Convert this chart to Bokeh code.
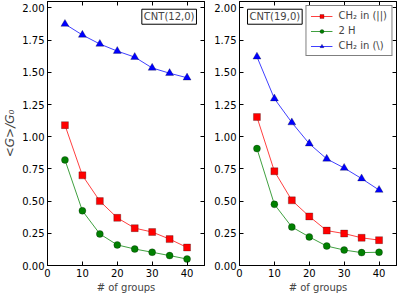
from bokeh.plotting import figure
from bokeh.layouts import row
from bokeh.models import (FixedTicker, LinearAxis, Label, Legend, LegendItem, Range1d,
                          CustomJSTickFormatter)
from bokeh.embed import file_html
from bokeh.resources import INLINE

groups = [5, 10, 15, 20, 25, 30, 35, 40]

# CNT(12,0)
c12_ch2_par = [1.09, 0.70, 0.50, 0.37, 0.29, 0.26, 0.205, 0.14]
c12_2h = [0.82, 0.425, 0.245, 0.16, 0.128, 0.103, 0.077, 0.05]
c12_ch2_perp = [1.875, 1.79, 1.72, 1.665, 1.618, 1.534, 1.493, 1.458]

# CNT(19,0)
c19_ch2_par = [1.153, 0.732, 0.506, 0.381, 0.271, 0.248, 0.215, 0.197]
c19_2h = [0.908, 0.475, 0.299, 0.222, 0.151, 0.12, 0.1, 0.103]
c19_ch2_perp = [1.621, 1.296, 1.11, 0.946, 0.828, 0.757, 0.675, 0.586]

y_ticks = [0.0, 0.25, 0.5, 0.75, 1.0, 1.25, 1.5, 1.75, 2.0]
x_ticks = [0, 10, 20, 30, 40]
series_labels = ["CH\u2082 in (||)", "2 H", "CH\u2082 in (\\)"]
panel_titles = ["CNT(12,0)", "CNT(19,0)"]

FONT = "DejaVu Sans"
RED, GREEN, BLUE = "#ff0000", "#008000", "#0000ff"


def style_axis(ax, ticks, show_labels=True):
    ax.ticker = FixedTicker(ticks=ticks)
    ax.major_tick_in = 4
    ax.major_tick_out = 0
    ax.minor_tick_line_color = None
    ax.axis_line_color = "black"
    ax.major_tick_line_color = "black"
    ax.major_label_text_font = FONT
    ax.major_label_text_color = "black"
    if show_labels:
        ax.major_label_text_font_size = "10px"
        ax.major_label_standoff = 3
    else:
        ax.formatter = CustomJSTickFormatter(code="return '';")
        ax.major_label_text_font_size = "1px"
        ax.major_label_standoff = 0


def make_panel(par, h2, perp, left_border, right_border, ylabel, legend):
    p = figure(frame_width=157, frame_height=264, output_backend="svg",
               toolbar_location=None, x_range=Range1d(0, 45), y_range=Range1d(0, 2.05),
               min_border_left=left_border, min_border_right=right_border,
               min_border_top=1, min_border_bottom=0)
    p.xgrid.visible = False
    p.ygrid.visible = False
    p.outline_line_color = "black"
    p.background_fill_color = "white"
    p.border_fill_color = "white"

    style_axis(p.xaxis[0], x_ticks)
    style_axis(p.yaxis[0], y_ticks)
    p.yaxis[0].formatter = CustomJSTickFormatter(code="return tick.toFixed(2);")
    p.xaxis[0].axis_label = "# of groups"
    p.xaxis[0].axis_label_text_font = FONT
    p.xaxis[0].axis_label_text_font_size = "10px"
    p.xaxis[0].axis_label_text_font_style = "normal"
    p.xaxis[0].axis_label_standoff = 2
    if ylabel:
        p.yaxis[0].axis_label = ylabel
        p.yaxis[0].axis_label_text_font = FONT
        p.yaxis[0].axis_label_text_font_size = "12px"
        p.yaxis[0].axis_label_text_font_style = "italic"
        p.yaxis[0].axis_label_standoff = 2

    ra = LinearAxis()
    style_axis(ra, y_ticks, show_labels=False)
    p.add_layout(ra, "right")
    ta = LinearAxis()
    style_axis(ta, x_ticks, show_labels=False)
    p.add_layout(ta, "above")

    l1 = p.line(groups, par, line_color=RED, line_width=1, line_alpha=0.75)
    m1 = p.scatter(groups, par, marker="square", size=7, fill_color=RED,
                   line_color="black", line_width=0.5, line_alpha=0.5)
    l2 = p.line(groups, h2, line_color=GREEN, line_width=1, line_alpha=0.75)
    m2 = p.scatter(groups, h2, marker="circle", size=7, fill_color=GREEN,
                   line_color="black", line_width=0.5, line_alpha=0.5)
    l3 = p.line(groups, perp, line_color=BLUE, line_width=1, line_alpha=0.75)
    m3 = p.scatter(groups, perp, marker="triangle", size=8, fill_color=BLUE,
                   line_color="black", line_width=0.5, line_alpha=0.5)

    if legend:
        lg = Legend(items=[LegendItem(label=series_labels[0], renderers=[l1, m1]),
                           LegendItem(label=series_labels[1], renderers=[l2, m2]),
                           LegendItem(label=series_labels[2], renderers=[l3, m3])],
                    location="top_right", border_line_color="black",
                    border_line_width=1, background_fill_alpha=1,
                    label_text_font=FONT, label_text_font_size="10px",
                    glyph_width=22, glyph_height=10, label_height=10,
                    spacing=4, padding=4, margin=4, label_standoff=6)
        p.add_layout(lg, "center")

    return p


p1 = make_panel(c12_ch2_par, c12_2h, c12_ch2_perp, 39, 7, "<G>/G\u2080", False)
p1.add_layout(Label(x=42.7, y=1.99, text=panel_titles[0], text_align="right",
                    text_baseline="top", text_font=FONT, text_font_size="10px",
                    border_line_color="black", background_fill_color="white",
                    padding=2))

p2 = make_panel(c19_ch2_par, c19_2h, c19_ch2_perp, 25, 2, None, True)
p2.add_layout(Label(x=2.3, y=1.99, text=panel_titles[1], text_align="left",
                    text_baseline="top", text_font=FONT, text_font_size="10px",
                    border_line_color="black", background_fill_color="white",
                    padding=2))

layout = row(p1, p2)
open("out.html", "w").write(file_html(layout, INLINE))
